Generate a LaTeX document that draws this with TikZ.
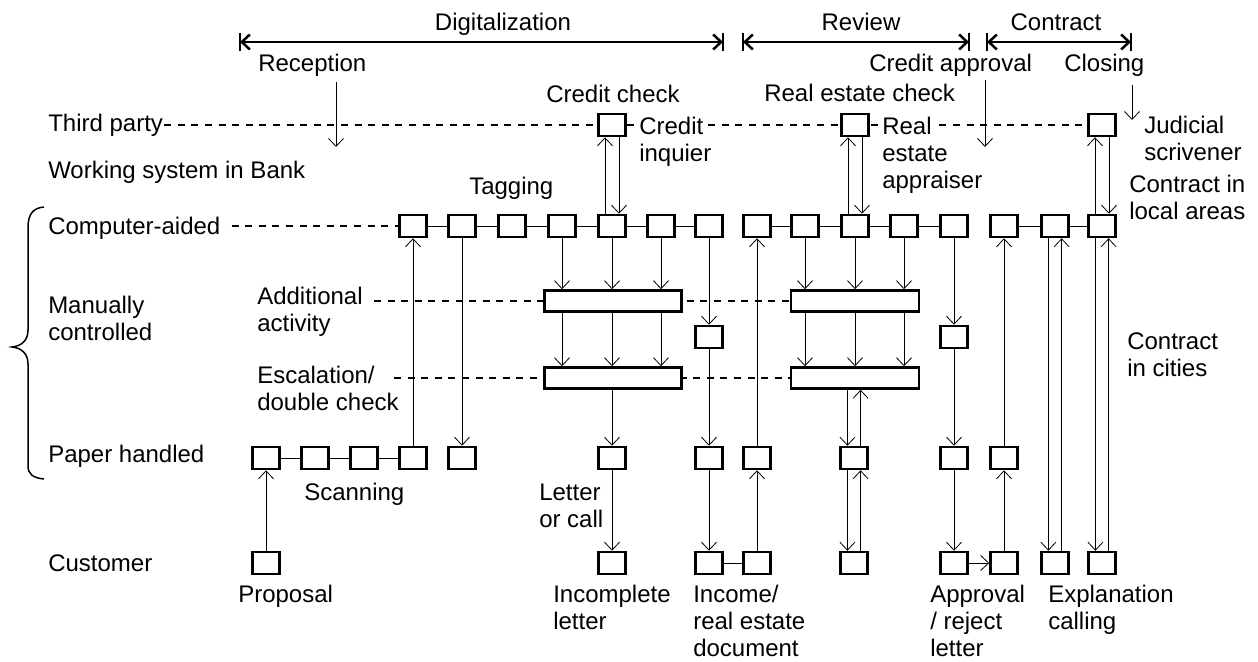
\documentclass[tikz,border=0pt]{standalone}
\usepackage{fontspec}
\setmainfont{Liberation Sans}
\usetikzlibrary{arrows.meta,backgrounds}
\newcommand{\stackl}[1]{\begin{tabular}[t]{@{}l@{}}#1\end{tabular}}
\begin{document}
\begin{tikzpicture}[x=0.5pt,y=-0.5pt,
  font=\fontsize{12}{13.5}\selectfont,
  line width=1.25pt,
  >={Straight Barb[length=4pt,width=7.5pt]},
  sq/.style={draw, fill=white, minimum width=13.5pt, minimum height=11pt, inner sep=0pt},
  wide/.style={draw, fill=white, minimum height=10.5pt, inner sep=0pt},
  lbl/.style={anchor=base west, inner sep=0pt},
  lblw/.style={anchor=base west, inner sep=1pt, fill=white},
  ttl/.style={anchor=base, inner sep=0pt},
  rowline/.style={line width=1.1pt, dash pattern=on 3.5pt off 3.3pt},
]
\useasboundingbox (0,0) rectangle (1258,662);

% phase headings with their spans
\node[ttl] (digi) at (503,31) {Digitalization};
\node[ttl] (revw) at (861,31) {Review};
\node[ttl] (cont) at (1056,31) {Contract};
\coordinate (dA) at (240,42);
\coordinate (dB) at (723,42);
\coordinate (rA) at (743,42);
\coordinate (rB) at (969,42);
\coordinate (kA) at (987,42);
\coordinate (kB) at (1131,42);
\draw[<->] (dA) -- (dB);
\draw[<->] (rA) -- (rB);
\draw[<->] (kA) -- (kB);
\foreach \p in {dA,dB,rA,rB,kA,kB}
  \draw ([yshift=4.5pt]\p) -- ([yshift=-4.5pt]\p);

% process steps
\node[lbl] (recp) at (257,72) {Reception};
\node[lbl] (capp) at (868,72) {Credit approval};
\node[lbl] (clos) at (1063,72) {Closing};
\coordinate (recp1) at (336,82);
\coordinate (recp2) at (336,147);
\coordinate (capp1) at (985,80);
\coordinate (capp2) at (985,147);
\coordinate (clos1) at (1132,85);
\coordinate (clos2) at (1132,120);

% row labels
\node[lbl] (tp) at (47,132) {Third party};
\node[lbl] (wsb) at (47,179) {Working system in Bank};
\node[lbl] (cad) at (47,235) {Computer-aided};
\node[lbl] (man) at (47,314) {\stackl{Manually\\controlled}};
\node[lbl] (pap) at (47,463) {Paper handled};
\node[lbl] (cus) at (47,571) {Customer};
\node[lbl] (addA) at (256,305) {Additional};
\node[lbl] (addB) at (256,332) {activity};
\node[lbl] (escA) at (256,384) {Escalation/};
\node[lbl] (escB) at (256,411) {double check};

% brace grouping the bank rows
\draw[line width=0.75pt] (44,207) .. controls (33,208) and (28,214) .. (28,228)
  -- (28,330) .. controls (28,341) and (21,346) .. (12,347)
  .. controls (21,348) and (28,353) .. (28,364)
  -- (28,466) .. controls (28,474) and (33,478) .. (44,479);

% third party
\node[sq] (t1) at (612,125) {};
\node[sq] (t2) at (855,125) {};
\node[sq] (t3) at (1102,125) {};

% computer-aided
\foreach \n/\x in {c1/413,c2/462,c3/512,c4/562,c5/612,c6/661,c7/709,
                   c8/757,c9/805,c10/855,c11/904,c12/954,
                   c13/1004,c14/1055,c15/1102}
  \node[sq] (\n) at (\x,226) {};

% manual activities
\node[wide, minimum width=68.5pt] (a1) at (613,301) {};
\node[wide, minimum width=64pt] (a2) at (855,301) {};
\node[wide, minimum width=68.5pt] (e1) at (613,378) {};
\node[wide, minimum width=64pt] (e2) at (855,378) {};
\node[sq] (s1) at (709,337) {};
\node[sq] (s2) at (954,337) {};

% paper handled
\foreach \n/\x in {p1/266,p2/315,p3/364,p4/413,p5/462,p6/612,p7/709,
                   p8/757,p9/854,p10/954,p11/1004}
  \node[sq] (\n) at (\x,458) {};

% customer
\foreach \n/\x in {u1/266,u2/612,u3/709,u4/757,u5/854,u6/954,u7/1004,
                   u8/1055,u9/1102}
  \node[sq] (\n) at (\x,563) {};

% activity labels
\node[lbl] (ccheck) at (545,103) {Credit check};
\node[lbl] (recheck) at (763,102) {Real estate check};
\node[lblw] (cinqA) at (636,135) {Credit};
\node[lbl] (cinqB) at (638,162) {inquier};
\node[lblw] (reaA) at (879,135) {Real};
\node[lbl] (reaB) at (881,162) {\stackl{estate\\appraiser}};
\node[lbl] (jud) at (1143,134) {\stackl{Judicial\\scrivener}};
\node[lbl] (tag) at (468,195) {Tagging};
\node[lbl] (cloc) at (1128,193) {\stackl{Contract in\\local areas}};
\node[lbl] (ccity) at (1126,350) {\stackl{Contract\\in cities}};
\node[lbl] (scan) at (303,500) {Scanning};
\node[lbl] (letc) at (538,500) {\stackl{Letter\\or call}};
\node[lbl] (prop) at (237,602) {Proposal};
\node[lbl] (incl) at (552,602) {\stackl{Incomplete\\letter}};
\node[lbl] (incd) at (692,602) {\stackl{Income/\\real estate\\document}};
\node[lbl] (appr) at (929,602) {\stackl{Approval\\/ reject\\letter}};
\node[lbl] (expl) at (1047,602) {\stackl{Explanation\\calling}};

% dashed row lines behind the boxes
\begin{pgfonlayer}{background}
  \draw[rowline] (tp.east |- t1.west) -- (t3.west);
  \draw[rowline] ([xshift=5pt]cad.east |- c1.west) -- (c1.west);
  \draw[rowline] ([xshift=5pt]addA.east |- a1.west) -- (a2.west);
  \draw[rowline] ([xshift=9pt]escA.east |- e1.west) -- (e2.west);
\end{pgfonlayer}

% step arrows
\draw[->] (recp1) -- (recp2);
\draw[->] (capp1) -- (capp2);
\draw[->] (clos1) -- (clos2);

% chains
\draw (p1) -- (p2) -- (p3) -- (p4);
\draw (c1) -- (c2) -- (c3) -- (c4) -- (c5) -- (c6) -- (c7);
\draw (c8) -- (c9) -- (c10) -- (c11) -- (c12);
\draw (c13) -- (c14) -- (c15);
\draw (u3) -- (u4);

% digitalization flow
\draw[->] (u1) -- (p1);
\draw[->] (p4) -- (c1);
\draw[->] (c2) -- (p5);
\foreach \c in {c4,c5,c6} {
  \draw[->] (\c) -- (\c |- a1.north);
  \draw[->] (a1.south -| \c) -- (e1.north -| \c);
}
\draw[->] (e1.south -| p6) -- (p6);
\draw[->] (p6) -- (u2);
\draw[->] (c7) -- (s1);
\draw[->] (s1) -- (p7);
\draw[->] (p7) -- (u3);
\draw[->] (u4) -- (p8);
\draw[->] (p8) -- (c8);
\draw[->] ([xshift=-3.5pt]c5.north) -- ([xshift=-3.5pt]t1.south);
\draw[->] ([xshift=3.5pt]t1.south) -- ([xshift=3.5pt]c5.north);

% review flow
\foreach \c in {c9,c10,c11} {
  \draw[->] (\c) -- (\c |- a2.north);
  \draw[->] (a2.south -| \c) -- (e2.north -| \c);
}
\draw[->] ([xshift=-3.5pt]c10.north) -- ([xshift=-3.5pt]t2.south);
\draw[->] ([xshift=3.5pt]t2.south) -- ([xshift=3.5pt]c10.north);
\draw[->] ([xshift=-3.3pt]e2.south -| p9) -- ([xshift=-3.3pt]p9.north);
\draw[->] ([xshift=3.3pt]p9.north) -- ([xshift=3.3pt]e2.south -| p9);
\draw[->] ([xshift=-3.3pt]p9.south) -- ([xshift=-3.3pt]u5.north);
\draw[->] ([xshift=3.3pt]u5.north) -- ([xshift=3.3pt]p9.south);
\draw[->] (c12) -- (s2);
\draw[->] (s2) -- (p10);
\draw[->] (p10) -- (u6);

% contract flow
\draw[->] (u6) -- (u7);
\draw[->] (u7) -- (p11);
\draw[->] (p11) -- (c13);
\draw[->] ([xshift=-3.3pt]c14.south) -- ([xshift=-3.3pt]u8.north);
\draw[->] ([xshift=3.3pt]u8.north) -- ([xshift=3.3pt]c14.south);
\draw[->] ([xshift=-3.3pt]c15.south) -- ([xshift=-3.3pt]u9.north);
\draw[->] ([xshift=3.3pt]u9.north) -- ([xshift=3.3pt]c15.south);
\draw[->] ([xshift=-3.5pt]c15.north) -- ([xshift=-3.5pt]t3.south);
\draw[->] ([xshift=3.5pt]t3.south) -- ([xshift=3.5pt]c15.north);
\end{tikzpicture}
\end{document}
